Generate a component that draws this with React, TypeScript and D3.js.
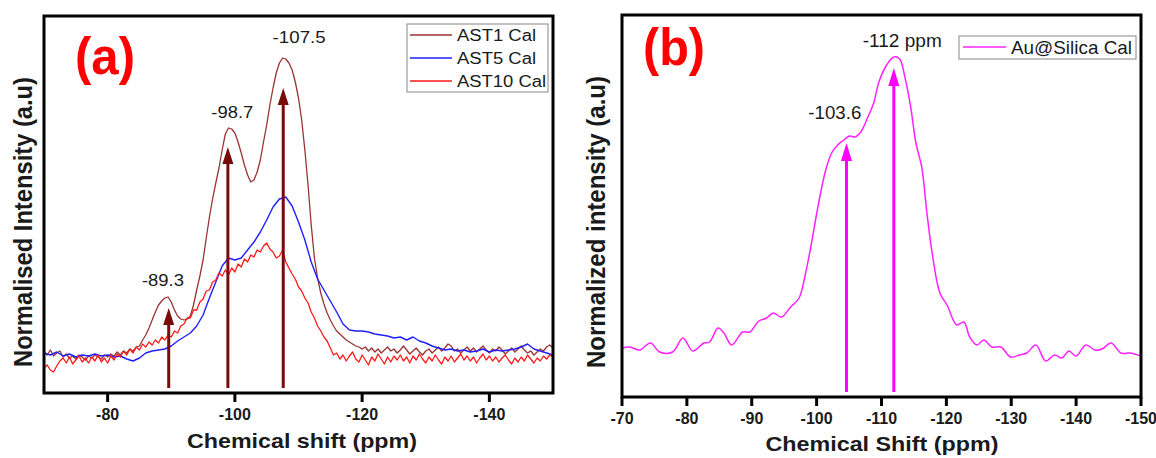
import React from 'react';
import * as d3 from 'd3';

const FONT = '"Liberation Sans", Arial, Helvetica, sans-serif';

// ---------- Panel (a) data ----------
const ppmGridA = [
  -70, -70.5, -71, -71.5, -72, -72.5, -73, -73.5, -74, -74.5,
  -75, -75.5, -76, -76.5, -77, -77.5, -78, -78.5, -79, -79.5,
  -80, -80.5, -81, -81.5, -82, -82.5, -83, -83.5, -84, -84.5,
  -85, -85.5, -86, -86.5, -87, -87.5, -88, -88.5, -89, -89.5,
  -90, -90.5, -91, -91.5, -92, -92.5, -93, -93.5, -94, -94.5,
  -95, -95.5, -96, -96.5, -97, -97.5, -98, -98.5, -99, -99.5,
  -100, -100.5, -101, -101.5, -102, -102.5, -103, -103.5, -104, -104.5,
  -105, -105.5, -106, -106.5, -107, -107.5, -108, -108.5, -109, -109.5,
  -110, -110.5, -111, -111.5, -112, -112.5, -113, -113.5, -114, -114.5,
  -115, -115.5, -116, -116.5, -117, -117.5, -118, -118.5, -119, -119.5,
  -120, -120.5, -121, -121.5, -122, -122.5, -123, -123.5, -124, -124.5,
  -125, -125.5, -126, -126.5, -127, -127.5, -128, -128.5, -129, -129.5,
  -130, -130.5, -131, -131.5, -132, -132.5, -133, -133.5, -134, -134.5,
  -135, -135.5, -136, -136.5, -137, -137.5, -138, -138.5, -139, -139.5,
  -140, -140.5, -141, -141.5, -142, -142.5, -143, -143.5, -144, -144.5,
  -145, -145.5, -146, -146.5, -147, -147.5, -148, -148.5, -149, -149.5,
  -150,
];

const ast1Values = [
  41, 38, 43, 37, 40, 42, 36, 39, 35, 37,
  34, 38, 36, 33, 37, 35, 38, 36, 34, 38,
  36, 39, 37, 41, 38, 42, 40, 44, 42, 46,
  47, 53, 58, 65, 73, 81, 88, 92, 95, 96,
  91, 83, 77, 74, 73, 74, 77, 88, 103, 117,
  133, 155, 176, 194, 210, 225, 243, 259, 265, 264,
  260, 251, 240, 228, 218, 211, 213, 221, 233, 251,
  268, 288, 305, 320, 330, 335, 334, 330, 323, 311,
  295, 273, 243, 208, 168, 135, 115, 100, 89, 80,
  73, 67, 62, 59, 56, 53, 51, 49, 47, 46,
  44, 46, 42, 45, 41, 44, 40, 43, 46, 42,
  44, 40, 43, 47, 43, 39, 42, 45, 41, 38,
  42, 44, 40, 43, 46, 42, 45, 49, 47, 42,
  44, 40, 43, 46, 42, 45, 41, 44, 47, 43,
  40, 44, 42, 46, 43, 39, 42, 45, 41, 44,
  47, 43, 40, 42, 38, 41, 44, 42, 46, 48,
  45,
];

const ast10Values = [
  25, 28, 23, 21, 27, 32, 35, 30, 36, 29,
  33, 37, 31, 35, 30, 36, 32, 38, 31, 35,
  30, 37, 33, 39, 36, 42, 38, 44, 40, 46,
  43, 49, 46, 51, 48, 53, 50, 56, 53, 58,
  56, 62, 60, 67, 69, 75, 75, 83, 83, 91,
  94, 102, 103, 111, 113, 120, 117, 123, 118, 125,
  121, 129, 126, 134, 131, 138, 136, 143, 141, 147,
  150, 144, 141, 135, 137, 143, 131, 125, 119, 114,
  106, 102, 95, 90, 81, 75, 67, 62, 56, 52,
  45, 38, 40, 34, 38, 32, 37, 41, 34, 31,
  38, 33, 28, 36, 32, 39, 34, 29, 36, 31,
  37, 33, 38, 32, 36, 30, 37, 33, 39, 34,
  30, 36, 32, 38, 33, 29, 36, 32, 37, 31,
  35, 39, 33, 37, 32, 36, 30, 35, 39, 33,
  37, 32, 36, 31, 35, 38, 33, 29, 35, 31,
  36, 32, 38, 34, 30, 35, 32, 37, 34, 38,
  36,
];

const ast5Ppm = [
  -70, -71, -72, -73, -74, -75, -76, -77, -78, -79,
  -80, -81, -82, -83, -84, -85, -86, -87, -88, -89,
  -90, -91, -92, -93, -94, -95, -96, -97, -98, -99,
  -100, -101, -102, -103, -104, -105, -106, -107, -108, -109,
  -110, -111, -112, -113, -114, -115, -116, -117, -118, -119,
  -120, -121, -122, -123, -124, -125, -126, -127, -128, -129,
  -130, -131, -132, -133, -134, -135, -136, -137, -138, -139,
  -140, -141, -142, -143, -144, -145, -146, -147, -148, -149,
  -150,
];
const ast5Values = [
  40, 38, 41, 37, 39, 36, 38, 37, 39, 37,
  38, 36, 37, 34, 32, 35, 40, 42, 43, 44,
  47, 52, 56, 60, 67, 78, 95, 111, 127, 135,
  133, 135, 143, 151, 161, 173, 186, 194, 196, 187,
  171, 153, 131, 114, 103, 92, 81, 69, 63, 62,
  62, 61, 59, 58, 57, 55, 56, 53, 56, 52,
  50, 47, 45, 43, 44, 42, 43, 41, 42, 44,
  41, 43, 42, 43, 44, 46, 49, 44, 42, 40,
  38,
];

const seriesA = [
  { name: 'AST1 Cal', ppm: ppmGridA, values: ast1Values, color: '#9a3434', width: 1.3 },
  { name: 'AST5 Cal', ppm: ast5Ppm, values: ast5Values, color: '#1f1fff', width: 1.4 },
  { name: 'AST10 Cal', ppm: ppmGridA, values: ast10Values, color: '#ff1a1a', width: 1.3 },
];

const xTicksA = [-80, -100, -120, -140];
const arrowPpmA = [-89.6, -98.9, -107.6];
const arrowTipA = [85, 246, 305];
const peakLabelsA = ['-89.3', '-98.7', '-107.5'];
const peakLabelPpmA = [-88.7, -99.6, -110.1];
const peakLabelValA = [107, 275, 350];

// ---------- Panel (b) data ----------
const auPpm = [
  -70, -71.25, -72.7, -74.4, -75.8, -77.8, -79.4, -80.9, -82.6, -83.5,
  -84.8, -85.7, -86.9, -88.6, -89.7, -91.1, -92.3, -93.3, -94.6, -96,
  -97.3, -98.3, -99.1, -100.2, -101.4, -102.4, -103.4, -104.2, -105.1, -105.9,
  -106.8, -107.9, -108.8, -109.6, -110.8, -111.9, -112.8, -113.6, -114.5, -115.3,
  -116.2, -117, -117.9, -119, -120.1, -121.6, -122.7, -123.6, -124.7, -125.8,
  -127, -128.4, -129.9, -131.3, -132.4, -133.8, -135.3, -136.7, -137.8, -138.9,
  -140, -141.5, -142.9, -144, -145.4, -146.9, -148.3, -150,
];
const auValues = [
  49, 50, 47, 54, 45, 45, 59, 46, 54, 55,
  69, 64, 52, 65, 65, 76, 79, 84, 80, 90,
  99, 124, 150, 190, 227, 245, 253, 257, 261, 260,
  265, 280, 294, 315, 332, 340, 338, 320, 290, 254,
  230, 184, 140, 104, 92, 72, 75, 60, 52, 57,
  50, 50, 40, 42, 44, 52, 36, 42, 39, 46,
  41, 52, 47, 48, 54, 44, 44, 41,
];
const xTicksB = [-70, -80, -90, -100, -110, -120, -130, -140, -150];
const arrowPpmB = [-104.6, -111.9];
const arrowTipB = [254, 329];
const peakLabelsB = ['-103.6', '-112 ppm'];
const peakLabelPpmB = [-102.8, -113.2];
const peakLabelValB = [278, 350];

// ---------- helpers ----------
type TxtProps = {
  x: number; y: number; size: number; children: React.ReactNode;
  weight?: string | number; fill?: string; anchor?: string; len?: number; rotate?: number;
};
function Txt({ x, y, size, children, weight = 'normal', fill = '#1a1a1a', anchor = 'start', len, rotate }: TxtProps) {
  return (
    <text
      x={x}
      y={y}
      fontSize={size}
      fontWeight={weight}
      fill={fill}
      textAnchor={anchor as any}
      fontFamily={FONT}
      textLength={len}
      lengthAdjust={len ? 'spacingAndGlyphs' : undefined}
      transform={rotate ? `rotate(${rotate},${x},${y})` : undefined}
    >
      {children}
    </text>
  );
}

function Arrow({ x, yTip, yBase, color, headW, headL, sw }: { x: number; yTip: number; yBase: number; color: string; headW: number; headL: number; sw: number }) {
  return (
    <g>
      <line x1={x} x2={x} y1={yBase} y2={yTip + headL - 1} stroke={color} strokeWidth={sw} />
      <polygon points={`${x},${yTip} ${x - headW / 2},${yTip + headL} ${x + headW / 2},${yTip + headL}`} fill={color} />
    </g>
  );
}

export default function App() {
  // Panel a scales
  const xA = d3.scaleLinear().domain([-70, -150]).range([44, 553]);
  const yA = d3.scaleLinear().domain([0, 377]).range([393, 16]);
  // Panel b scales
  const xB = d3.scaleLinear().domain([-70, -150]).range([622, 1141]);
  const yB = d3.scaleLinear().domain([0, 382]).range([397, 15]);

  const lineA = d3.line<[number, number]>().x((d) => xA(d[0])).y((d) => yA(d[1]));
  const lineB = d3
    .line<[number, number]>()
    .x((d) => xB(d[0]))
    .y((d) => yB(d[1]))
    .curve(d3.curveCatmullRom.alpha(0.5));

  const legendA = { x: 407, y: 24, w: 141, h: 68 };
  const legendRowsA = [35, 58, 81];
  const legendLenA = [79, 79, 89];
  const labelLenA = [42, 42, 53];

  return (
    <svg width={1156} height={458} style={{ position: 'absolute', left: 0, top: 0, background: '#fff' }}>
      <rect x={0} y={0} width={1156} height={458} fill="#fff" />

      {/* ===== Panel (a) ===== */}
      <g>
        {seriesA.map((s) => (
          <path
            key={s.name}
            d={lineA(s.ppm.map((p, i) => [p, s.values[i]] as [number, number])) || ''}
            fill="none"
            stroke={s.color}
            strokeWidth={s.width}
            strokeLinejoin="round"
          />
        ))}
        {arrowPpmA.map((p, i) => (
          <Arrow key={i} x={xA(p)} yTip={yA(arrowTipA[i])} yBase={yA(5)} color="#7a0b0b" headW={11} headL={17} sw={3} />
        ))}
        {peakLabelsA.map((t, i) => (
          <Txt key={t} x={xA(peakLabelPpmA[i])} y={yA(peakLabelValA[i])} size={17} anchor="middle" len={labelLenA[i]}>
            {t}
          </Txt>
        ))}
        <rect x={44} y={16} width={509} height={377} fill="none" stroke="#000" strokeWidth={3} />
        {xTicksA.map((t) => (
          <g key={t}>
            <line x1={xA(t)} x2={xA(t)} y1={393} y2={402} stroke="#000" strokeWidth={3} />
            <Txt x={xA(t)} y={420} size={16} weight="bold" anchor="middle">
              {String(t)}
            </Txt>
          </g>
        ))}
        <Txt x={302} y={448} size={21} weight="bold" anchor="middle" len={230}>
          Chemical shift (ppm)
        </Txt>
        <Txt x={32} y={222} size={25} weight="bold" anchor="middle" rotate={-90} len={290}>
          Normalised Intensity (a.u)
        </Txt>
        <Txt x={75} y={74} size={52} weight="bold" fill="#ff0000" len={60}>
          (a)
        </Txt>
        {/* legend */}
        <rect x={legendA.x} y={legendA.y} width={legendA.w} height={legendA.h} fill="#fff" stroke="#9a9a9a" strokeWidth={1.2} />
        {seriesA.map((s, i) => (
          <g key={s.name}>
            <line x1={410} x2={452} y1={legendRowsA[i]} y2={legendRowsA[i]} stroke={s.color} strokeWidth={1.5} />
            <Txt x={457} y={legendRowsA[i] + 6} size={16} len={legendLenA[i]}>
              {s.name}
            </Txt>
          </g>
        ))}
      </g>

      {/* ===== Panel (b) ===== */}
      <g>
        <path
          d={lineB(auPpm.map((p, i) => [p, auValues[i]] as [number, number])) || ''}
          fill="none"
          stroke="#ff22ff"
          strokeWidth={1.5}
        />
        {arrowPpmB.map((p, i) => (
          <Arrow key={i} x={xB(p)} yTip={yB(arrowTipB[i])} yBase={yB(5)} color="#ff00ff" headW={11} headL={18} sw={3} />
        ))}
        {peakLabelsB.map((t, i) => (
          <Txt key={t} x={xB(peakLabelPpmB[i])} y={yB(peakLabelValB[i])} size={19} anchor="middle" len={i === 0 ? 53 : 79}>
            {t}
          </Txt>
        ))}
        <rect x={622} y={15} width={519} height={382} fill="none" stroke="#000" strokeWidth={3} />
        {xTicksB.map((t) => (
          <g key={t}>
            <line x1={xB(t)} x2={xB(t)} y1={397} y2={406} stroke="#000" strokeWidth={3} />
            <Txt x={xB(t)} y={424} size={16} weight="bold" anchor="middle">
              {String(t)}
            </Txt>
          </g>
        ))}
        <Txt x={882} y={451} size={21} weight="bold" anchor="middle" len={233}>
          Chemical Shift (ppm)
        </Txt>
        <Txt x={605} y={222} size={25} weight="bold" anchor="middle" rotate={-90} len={292}>
          Normalized intensity (a.u)
        </Txt>
        <Txt x={643} y={65} size={52} weight="bold" fill="#ff0000" len={62}>
          (b)
        </Txt>
        <rect x={959} y={36} width={177} height={23} fill="#fff" stroke="#9a9a9a" strokeWidth={1.2} />
        <line x1={963} x2={1006} y1={47} y2={47} stroke="#ff22ff" strokeWidth={1.5} />
        <Txt x={1011} y={54} size={18.5} len={121}>
          Au@Silica Cal
        </Txt>
      </g>
    </svg>
  );
}
